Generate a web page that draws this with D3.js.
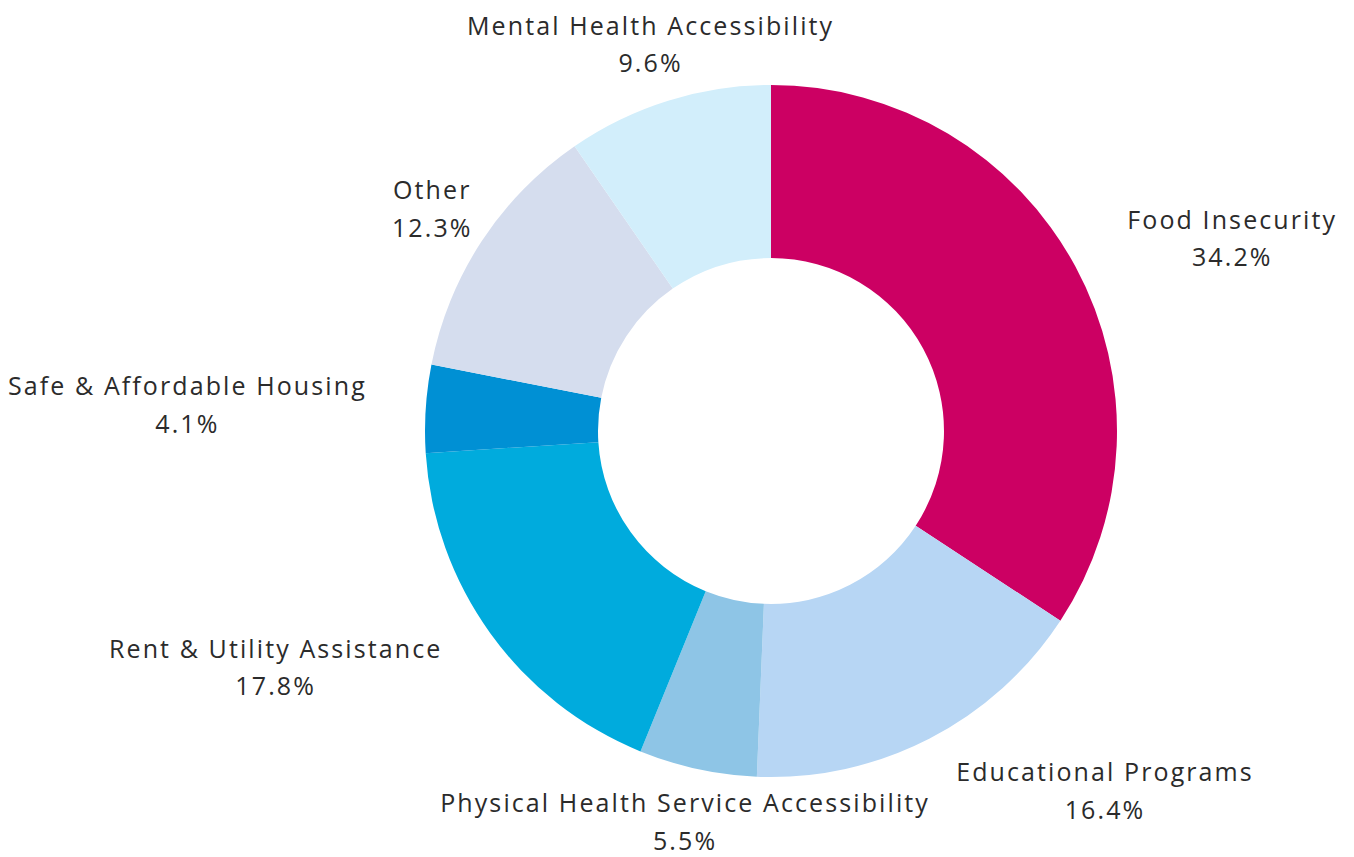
<!DOCTYPE html>
<html>
<head>
<meta charset="utf-8">
<script src="https://cdn.jsdelivr.net/npm/d3@7"></script>
<style>
  html, body { margin: 0; padding: 0; background: #ffffff; }
  svg { display: block; }
  .label { font-family: "Open Sans", "Noto Sans", sans-serif; font-size: 25px; letter-spacing: 2.1px; fill: #2b2b2b; }
</style>
</head>
<body>
<svg id="chart" width="1354" height="857"></svg>
<script>
// Share of responses per community need
const categories = [
  "Food Insecurity",
  "Educational Programs",
  "Physical Health Service Accessibility",
  "Rent & Utility Assistance",
  "Safe & Affordable Housing",
  "Other",
  "Mental Health Accessibility"
];
const values = [34.2, 16.4, 5.5, 17.8, 4.1, 12.3, 9.6];
const colors = ["#cc0063", "#b7d6f4", "#8ec5e6", "#00abdd", "#0090d4", "#d5ddee", "#d2eefb"];

const height = 857;
const cx = 771, cy = 431;
const outerR = 346, innerR = 173, labelR = 405;

const svg = d3.select("#chart");
const g = svg.append("g").attr("transform", `translate(${cx},${cy})`);

const data = categories.map((c, i) => ({ name: c, value: values[i], color: colors[i] }));

const pie = d3.pie().value(d => d.value).sort(null);
const arc = d3.arc().innerRadius(innerR).outerRadius(outerR);
const arcs = pie(data);

g.selectAll("path.slice")
  .data(arcs)
  .join("path")
  .attr("class", "slice")
  .attr("d", arc)
  .attr("fill", d => d.data.color);

// Labels sit on a ring outside the donut, at each slice's mid-angle
const labelArc = d3.arc().innerRadius(labelR).outerRadius(labelR);
const lineGap = 37.5;
const maxLastLine = height - cy - 17.5; // keep the lower line inside the canvas

const labels = g.selectAll("g.lbl")
  .data(arcs)
  .join("g")
  .attr("class", "lbl");

labels.each(function(d) {
  const [x, y0] = labelArc.centroid(d);
  const y = Math.min(y0 - 1, maxLastLine - lineGap / 2);
  const mid = (d.startAngle + d.endAngle) / 2;
  const c = Math.cos(mid), s = Math.sin(mid);
  let anchor;
  if (c > 0.5 || c < -0.95) anchor = "middle";
  else anchor = s > 0 ? "start" : "end";

  const grp = d3.select(this);
  const lines = [d.data.name, d.data.value.toFixed(1) + "%"];
  const texts = grp.selectAll("text")
    .data(lines)
    .join("text")
    .attr("class", "label")
    .attr("text-anchor", "middle")
    .attr("dominant-baseline", "central")
    .attr("y", (t, i) => y + (i - 0.5) * lineGap)
    .text(t => t);

  // Both lines are centred on each other; the block is aligned to the anchor point
  const widths = texts.nodes().map(n => n.getComputedTextLength());
  const blockW = Math.max(...widths);
  let centerX = x;
  if (anchor === "start") centerX = x + blockW / 2;
  if (anchor === "end") centerX = x - blockW / 2;
  texts.attr("x", centerX);
});
</script>
</body>
</html>
